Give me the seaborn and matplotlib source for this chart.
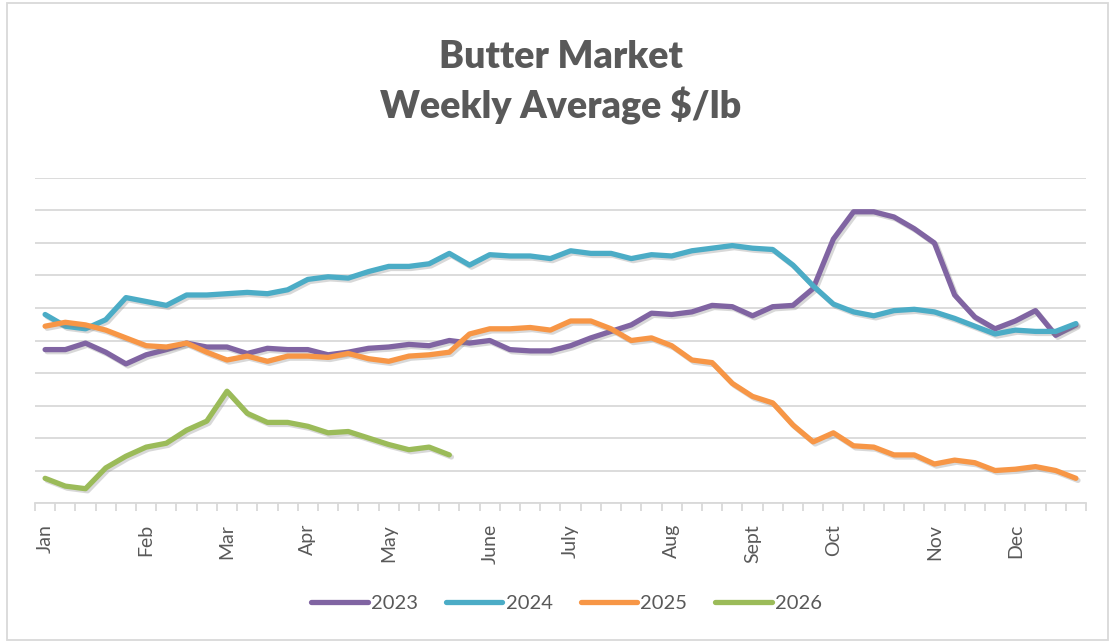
import numpy as np
import pandas as pd
import matplotlib.pyplot as plt
import matplotlib.patheffects as pe
from matplotlib.patches import Rectangle
import seaborn as sns

sns.set_theme(style='white')
plt.rcParams['font.family'] = ['Lato', 'DejaVu Sans']

# weekly averages, $/lb
price_2023 = [2.43, 2.43, 2.48, 2.41, 2.32, 2.39, 2.43, 2.48, 2.45, 2.45,
              2.40, 2.44, 2.43, 2.43, 2.39, 2.41, 2.44, 2.45, 2.47, 2.46,
              2.50, 2.48, 2.50, 2.43, 2.42, 2.42, 2.46, 2.52, 2.57, 2.62,
              2.71, 2.70, 2.72, 2.77, 2.76, 2.69, 2.76, 2.77, 2.90, 3.28,
              3.49, 3.49, 3.45, 3.36, 3.25, 2.85, 2.68, 2.59, 2.65, 2.73,
              2.54, 2.62]
price_2024 = [2.70, 2.61, 2.59, 2.66, 2.83, 2.80, 2.77, 2.85, 2.85, 2.86,
              2.87, 2.86, 2.89, 2.97, 2.99, 2.98, 3.03, 3.07, 3.07, 3.09,
              3.17, 3.08, 3.16, 3.15, 3.15, 3.13, 3.19, 3.17, 3.17, 3.13,
              3.16, 3.15, 3.19, 3.21, 3.23, 3.21, 3.20, 3.08, 2.92, 2.78,
              2.72, 2.69, 2.73, 2.74, 2.72, 2.67, 2.61, 2.55, 2.58, 2.57,
              2.57, 2.63]
price_2025 = [2.61, 2.64, 2.62, 2.58, 2.52, 2.46, 2.45, 2.48, 2.41, 2.35,
              2.38, 2.34, 2.38, 2.38, 2.37, 2.40, 2.36, 2.34, 2.38, 2.39,
              2.41, 2.55, 2.59, 2.59, 2.60, 2.58, 2.65, 2.65, 2.59, 2.50,
              2.52, 2.46, 2.35, 2.33, 2.17, 2.07, 2.02, 1.85, 1.72, 1.79,
              1.69, 1.68, 1.62, 1.62, 1.55, 1.58, 1.56, 1.50, 1.51, 1.53,
              1.50, 1.44]
price_2026 = [1.44, 1.38, 1.36, 1.52, 1.61, 1.68, 1.71, 1.81, 1.88, 2.11,
              1.94, 1.87, 1.87, 1.84, 1.79, 1.80, 1.75, 1.70, 1.66, 1.68,
              1.62]

years = ['2023', '2024', '2025', '2026']
colors = {'2023': '#8064A2', '2024': '#4BACC6', '2025': '#F79646', '2026': '#9BBB59'}

month_labels = ['Jan', 'Feb', 'Mar', 'Apr', 'May', 'June', 'July', 'Aug',
                'Sept', 'Oct', 'Nov', 'Dec']
month_weeks = [0, 5, 9, 13, 17, 22, 26, 31, 35, 39, 44, 48]

frames = []
for year, vals in zip(years, [price_2023, price_2024, price_2025, price_2026]):
    frames.append(pd.DataFrame({'week': np.arange(len(vals)), 'price': vals, 'year': year}))
df = pd.concat(frames, ignore_index=True)

fig = plt.figure(figsize=(11.11, 6.43), dpi=100)
ax = fig.add_axes([0.0315, 0.2177, 0.946, 0.5055])

sns.lineplot(data=df, x='week', y='price', hue='year', hue_order=years,
             palette=colors, linewidth=3.8, solid_capstyle='round',
             solid_joinstyle='round', ax=ax)

ax.set_xlim(-0.5, 51.5)
ax.set_ylim(1.25, 3.75)
ax.set_yticks(np.arange(1.25, 3.76, 0.25))
ax.yaxis.grid(True, color='#D9D9D9', linewidth=1.3)
ax.tick_params(axis='y', left=False, labelleft=False)
for s in ['left', 'right', 'top']:
    ax.spines[s].set_visible(False)
ax.spines['bottom'].set_color('#D9D9D9')
ax.spines['bottom'].set_linewidth(1.3)

ax.set_xticks(month_weeks, month_labels, rotation=90)
ax.set_xticks(np.arange(-0.5, 52, 1), minor=True)
ax.tick_params(axis='x', which='major', bottom=False, pad=9,
               labelsize=14, labelcolor='#595959')
ax.tick_params(axis='x', which='minor', bottom=True, length=6, width=1.3,
               color='#D9D9D9', direction='out')
ax.set_xlabel('')
ax.set_ylabel('')

handles, labels = ax.get_legend_handles_labels()
ax.get_legend().remove()
fig.legend(handles, labels, loc='center', bbox_to_anchor=(0.51, 0.062), ncol=4,
           frameon=False, fontsize=14.5, handlelength=2.8, handletextpad=0.15,
           columnspacing=1.4, labelcolor='#595959')

# soft shadow like the original
for line in ax.lines:
    line.set_path_effects([pe.SimpleLineShadow(offset=(1.5, -1.5), shadow_color='gray', alpha=0.3),
                           pe.Normal()])

fig.text(0.505, 0.872, 'Butter Market\nWeekly Average $/lb', ha='center', va='center',
         fontsize=27, fontweight='heavy', color='#595959', linespacing=1.4)

fig.add_artist(Rectangle((0.006, 0.005), 0.991, 0.99, transform=fig.transFigure,
                         fill=False, edgecolor='#D9D9D9', linewidth=1.3))

fig.savefig('out.png', dpi=100)
